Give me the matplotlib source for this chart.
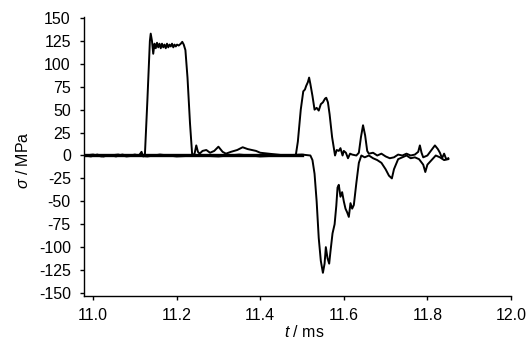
import numpy as np
import matplotlib
matplotlib.use('Agg')
import matplotlib.pyplot as plt

plt.rcParams['font.family'] = ['Liberation Sans', 'DejaVu Sans']
plt.rcParams['axes.unicode_minus'] = False
plt.rcParams['mathtext.fontset'] = 'custom'
plt.rcParams['mathtext.it'] = 'Liberation Sans:italic'
plt.rcParams['mathtext.rm'] = 'Liberation Sans'

# trace 1 (incident / reflected pulse)
t1 = [10.98, 10.995, 11.01, 11.025, 11.04, 11.055, 11.07, 11.085, 11.1, 11.11, 11.116, 11.12, 11.124,
      11.13, 11.136, 11.138, 11.141, 11.144, 11.147, 11.15, 11.153, 11.156, 11.159, 11.162, 11.165,
      11.168, 11.171, 11.174, 11.177, 11.18, 11.183, 11.186, 11.189, 11.192, 11.195, 11.198, 11.201,
      11.205, 11.21, 11.2135, 11.217, 11.221, 11.226, 11.232, 11.237, 11.242, 11.247, 11.251, 11.255,
      11.262, 11.271, 11.28, 11.29, 11.3, 11.31, 11.318, 11.33, 11.345, 11.358, 11.37, 11.38, 11.39,
      11.4, 11.42, 11.44, 11.46, 11.48, 11.485, 11.49, 11.497, 11.503, 11.507, 11.51, 11.514, 11.517,
      11.52, 11.525, 11.53, 11.535, 11.54, 11.545, 11.55, 11.555, 11.558, 11.562, 11.566, 11.572,
      11.579, 11.583, 11.588, 11.592, 11.597, 11.6, 11.605, 11.61, 11.615, 11.62, 11.63, 11.636,
      11.641, 11.646, 11.651, 11.656, 11.66, 11.67, 11.68, 11.69, 11.7, 11.71, 11.72, 11.73, 11.74,
      11.75, 11.76, 11.77, 11.778, 11.782, 11.786, 11.79, 11.8, 11.81, 11.818, 11.825, 11.83, 11.835,
      11.84, 11.845, 11.85]
s1 = [0, -1, 1, -1, 0.5, -1, 1, -0.5, 1, 0, 4, -1, 0,
      60, 125, 133, 125, 111, 122, 117, 123, 118, 122, 117, 122,
      118, 121, 117, 122, 118, 121, 119, 122, 118, 121, 119, 121,
      120, 122, 124, 121, 115, 85, 35, 2, 0, 11, 4, 2,
      5, 6, 3, 5, 9.6, 4, 2, 4, 6, 9, 7, 6, 5,
      3, 2, 1, 0, 0, 0, 15, 50, 70, 72, 76, 80, 85,
      78, 65, 50, 52, 49, 56, 58, 62, 63, 58, 45, 20,
      0, 6, 5, 8, 0, 5, 3, -3, 2, 1, 0, 3,
      20, 33, 22, 5, 2, 3, 0, 2, -1, -3, -2, 1, 0,
      2, 0, 1, 4, 11, 3, -2, 0, 6, 11, 7, 3, -3,
      2, -4, -3]

# trace 2 (transmitted pulse)
t2 = [10.98, 11.0, 11.02, 11.04, 11.06, 11.08, 11.1, 11.13, 11.16, 11.2, 11.25, 11.3, 11.35,
      11.4, 11.45, 11.5, 11.52, 11.525, 11.53, 11.535, 11.54, 11.545, 11.55, 11.554, 11.557,
      11.561, 11.565, 11.568, 11.573, 11.578, 11.582, 11.585, 11.588, 11.592, 11.596, 11.6, 11.604,
      11.608, 11.612, 11.616, 11.62, 11.624, 11.63, 11.636, 11.642, 11.65, 11.66, 11.67, 11.68,
      11.69, 11.7, 11.708, 11.715, 11.72, 11.73, 11.74, 11.75, 11.76, 11.77, 11.78, 11.79, 11.795,
      11.8, 11.81, 11.82, 11.83, 11.84, 11.85]
s2 = [0, 1, -1, 0, 1, -1, 0, -1, 1, -1, 0, -1, 1,
      -1, 0, 1, 0, -5, -20, -50, -90, -115, -128, -118, -100,
      -112, -118, -105, -85, -75, -55, -35, -32, -45, -40, -50, -58,
      -62, -67, -52, -58, -54, -30, -8, 0, -2, 0, -3, -5,
      -8, -15, -22, -25, -15, -4, -2, 0, -3, -2, -4, -10, -18,
      -10, -5, 0, -2, -5, -4]

yticks = list(range(-150, 151, 25))
xticks = [11.0, 11.2, 11.4, 11.6, 11.8, 12.0]

fig = plt.figure(figsize=(5.32, 3.42), dpi=100)
ax = fig.add_axes([0.158, 0.1345, 0.8025, 0.8155])

ax.plot(t1, s1, color='black', lw=1.4)
ax.plot(t2, s2, color='black', lw=1.4)
# baseline looks thick in the original
ax.plot([10.98, 11.5], [0, 0], color='black', lw=2.4)

ax.set_xlim(10.9785, 12.0)
ax.set_ylim(-153.3, 151)
ax.set_xticks(xticks)
ax.set_xticklabels(['%.1f' % x for x in xticks])
ax.set_yticks(yticks)
ax.set_yticklabels([str(y) for y in yticks])

for side in ['top', 'right']:
    ax.spines[side].set_visible(False)
for side in ['left', 'bottom']:
    ax.spines[side].set_linewidth(1.0)

ax.tick_params(axis='both', direction='out', length=3, width=1.0, labelsize=11.5)
ax.tick_params(axis='y', pad=6.5)
ax.tick_params(axis='x', pad=5.5)

ax.set_ylabel(r'$\sigma$ / MPa', fontsize=11.5)
ax.yaxis.set_label_coords(-0.125, 0.487)
ax.set_xlabel(r'$t$ / ms', fontsize=11.5)
ax.xaxis.set_label_coords(0.515, -0.1)

fig.savefig('out.png', dpi=100)
